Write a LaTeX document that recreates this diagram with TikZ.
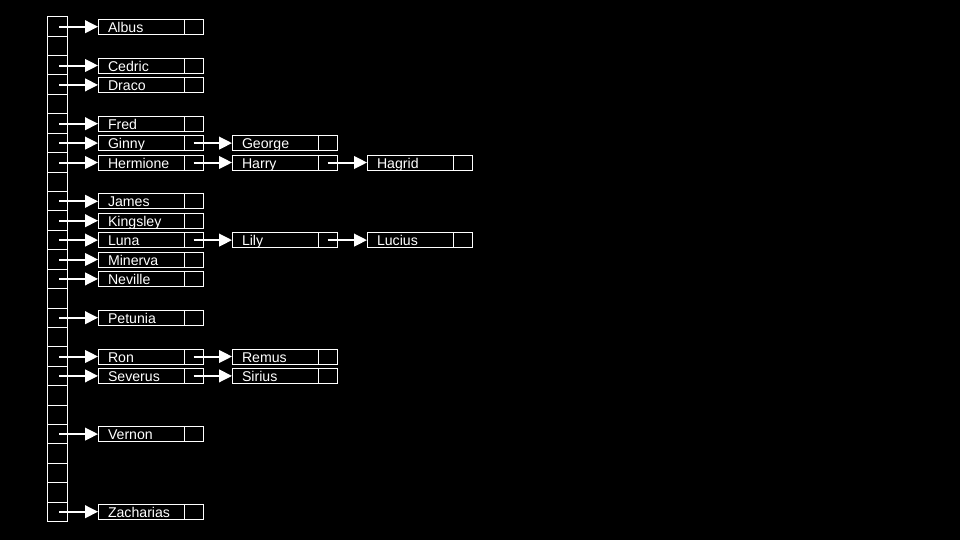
\documentclass[tikz,border=0pt]{standalone}
\usepackage{fontspec}
\setmainfont{Liberation Sans}
\usetikzlibrary{arrows.meta}
\newcommand\hentry[4]{%
  \node[namebox] (#1) at (#2,{17+19.4*(#3+0.5)}) {\hspace*{7.5pt}#4};
  \node[ptrbox] (#1p) at (#1.east) {};}
\begin{document}
\begin{tikzpicture}[x=0.75pt,y=-0.75pt,
  cell/.style={draw=white,line width=0.75pt,minimum width=15pt,minimum height=14.565pt,inner sep=0pt,outer sep=0pt},
  namebox/.style={draw=white,line width=0.75pt,minimum width=64.5pt,minimum height=11.25pt,inner sep=0pt,outer sep=0pt,anchor=west,text=white,text width=64.5pt,align=left,font=\fontsize{10.6pt}{12pt}\selectfont,text height=8.3pt,text depth=0pt},
  ptrbox/.style={draw=white,line width=0.75pt,minimum width=14.25pt,minimum height=11.25pt,inner sep=0pt,outer sep=0pt,anchor=west},
  link/.style={draw=white,line width=1.5pt,-{Triangle[length=9.75pt,width=9.5pt]}}
]
\fill[black] (0,0) rectangle (960,540);
\useasboundingbox (0,0) rectangle (960,540);
\foreach \i in {0,...,25} \node[cell] (c\i) at (57,{16.7+19.42*(\i+0.5)}) {};
% first column
\hentry{albus}{98}{0}{Albus}
\hentry{cedric}{98}{2}{Cedric}
\hentry{draco}{98}{3}{Draco}
\hentry{fred}{98}{5}{Fred}
\hentry{ginny}{98}{6}{Ginny}
\hentry{hermione}{98}{7}{Hermione}
\hentry{james}{98}{9}{James}
\hentry{kingsley}{98}{10}{Kingsley}
\hentry{luna}{98}{11}{Luna}
\hentry{minerva}{98}{12}{Minerva}
\hentry{neville}{98}{13}{Neville}
\hentry{petunia}{98}{15}{Petunia}
\hentry{ron}{98}{17}{Ron}
\hentry{severus}{98}{18}{Severus}
\hentry{vernon}{98}{21}{Vernon}
\hentry{zacharias}{98}{25}{Zacharias}
% second column
\hentry{george}{232}{6}{George}
\hentry{harry}{232}{7}{Harry}
\hentry{lily}{232}{11}{Lily}
\hentry{remus}{232}{17}{Remus}
\hentry{sirius}{232}{18}{Sirius}
% third column
\hentry{hagrid}{367}{7}{Hagrid}
\hentry{lucius}{367}{11}{Lucius}
% links from array
\draw[link] ([xshift=1.5pt]c0.center|-albus.west) -- (albus.west);
\draw[link] ([xshift=1.5pt]c2.center|-cedric.west) -- (cedric.west);
\draw[link] ([xshift=1.5pt]c3.center|-draco.west) -- (draco.west);
\draw[link] ([xshift=1.5pt]c5.center|-fred.west) -- (fred.west);
\draw[link] ([xshift=1.5pt]c6.center|-ginny.west) -- (ginny.west);
\draw[link] ([xshift=1.5pt]c7.center|-hermione.west) -- (hermione.west);
\draw[link] ([xshift=1.5pt]c9.center|-james.west) -- (james.west);
\draw[link] ([xshift=1.5pt]c10.center|-kingsley.west) -- (kingsley.west);
\draw[link] ([xshift=1.5pt]c11.center|-luna.west) -- (luna.west);
\draw[link] ([xshift=1.5pt]c12.center|-minerva.west) -- (minerva.west);
\draw[link] ([xshift=1.5pt]c13.center|-neville.west) -- (neville.west);
\draw[link] ([xshift=1.5pt]c15.center|-petunia.west) -- (petunia.west);
\draw[link] ([xshift=1.5pt]c17.center|-ron.west) -- (ron.west);
\draw[link] ([xshift=1.5pt]c18.center|-severus.west) -- (severus.west);
\draw[link] ([xshift=1.5pt]c21.center|-vernon.west) -- (vernon.west);
\draw[link] ([xshift=1.5pt]c25.center|-zacharias.west) -- (zacharias.west);
% chained links
\draw[link] (ginnyp.center) -- (george.west);
\draw[link] (hermionep.center) -- (harry.west);
\draw[link] (harryp.center) -- (hagrid.west);
\draw[link] (lunap.center) -- (lily.west);
\draw[link] (lilyp.center) -- (lucius.west);
\draw[link] (ronp.center) -- (remus.west);
\draw[link] (severusp.center) -- (sirius.west);
\end{tikzpicture}
\end{document}
